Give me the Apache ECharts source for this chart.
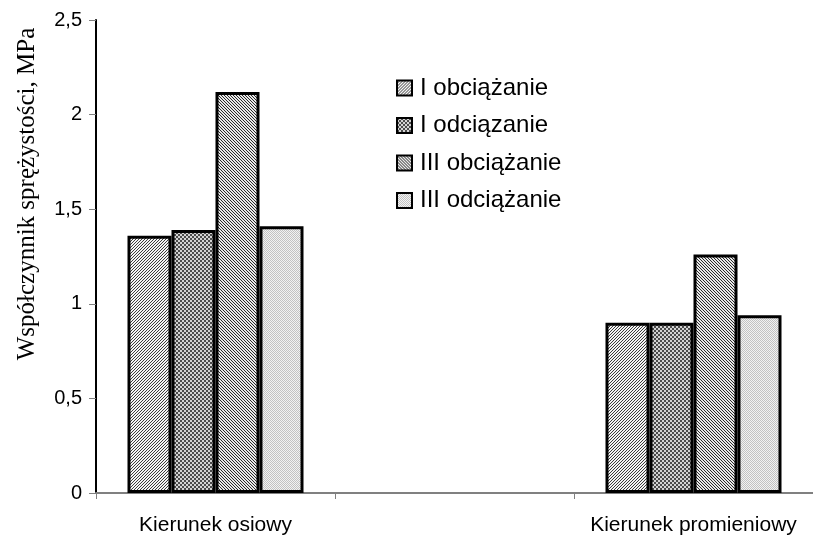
<!DOCTYPE html>
<html>
<head>
<meta charset="utf-8">
<script src="https://cdn.jsdelivr.net/npm/echarts@6/dist/echarts.min.js"></script>
<style>
  html, body { margin: 0; padding: 0; background: #fff; }
  #chart { width: 813px; height: 537px; }
</style>
</head>
<body>
<div id="chart"></div>
<script>
// Categories along the x axis (middle slot left empty)
const categories = ['Kierunek osiowy', '', 'Kierunek promieniowy'];

// Series names
const seriesNames = ['I obciążanie', 'I odciązanie', 'III obciążanie', 'III odciążanie'];

// Values per series, MPa
const iObciazanie = [1.36, null, 0.90];
const iOdciazanie = [1.39, null, 0.90];
const iiiObciazanie = [2.12, null, 1.26];
const iiiOdciazanie = [1.41, null, 0.94];

// Y-axis ticks
const yMin = 0, yMax = 2.5, yStep = 0.5;

// Builds a small repeating tile for hatched fills
function tile(size, bg, painter) {
  const c = document.createElement('canvas');
  c.width = size; c.height = size;
  const g = c.getContext('2d');
  g.fillStyle = bg;
  g.fillRect(0, 0, size, size);
  painter(g, size);
  return { image: c, repeat: 'repeat' };
}

// "/" hatch
const hatchForward = tile(3, '#f4f4f4', (g, s) => {
  for (let i = 0; i < s; i++) {
    g.fillStyle = '#3c3c3c'; g.fillRect(i, s - 1 - i, 1, 1);
  }
});
// fine dark checker
const checkerDark = tile(4, '#d2d2d2', (g) => {
  g.fillStyle = '#4a4a4a';
  g.fillRect(0, 0, 2, 2); g.fillRect(2, 2, 2, 2);
});
// "\" hatch, slightly darker
const hatchBack = tile(3, '#e8e8e8', (g, s) => {
  for (let i = 0; i < s; i++) {
    g.fillStyle = '#2a2a2a'; g.fillRect(i, i, 1, 1);
  }
});
// light stipple
const stippleLight = tile(2, '#f2f2f2', (g) => {
  g.fillStyle = '#c2c2c2';
  g.fillRect(0, 0, 1, 1); g.fillRect(1, 1, 1, 1);
});

const fills = [hatchForward, checkerDark, hatchBack, stippleLight];
const values = [iObciazanie, iOdciazanie, iiiObciazanie, iiiOdciazanie];

const chart = echarts.init(document.getElementById('chart'), null, { renderer: 'canvas' });

const series = seriesNames.map((name, i) => ({
  name: name,
  type: 'bar',
  data: values[i],
  barWidth: 44,
  barGap: '0%',
  itemStyle: { color: fills[i], borderColor: '#000', borderWidth: 3 },
  emphasis: { disabled: true },
  animation: false
}));

chart.setOption({
  animation: false,
  backgroundColor: '#ffffff',
  grid: { left: 96, right: -7, top: 20, bottom: 44, containLabel: false },
  legend: {
    orient: 'vertical',
    left: 391,
    top: 71,
    itemWidth: 15,
    itemHeight: 15,
    itemGap: 13.5,
    icon: 'rect',
    data: seriesNames,
    itemStyle: { borderColor: '#000', borderWidth: 2 },
    textStyle: { fontFamily: 'Liberation Sans, Arial, sans-serif', fontSize: 24, color: '#000', padding: [0, 0, 0, 3] }
  },
  xAxis: {
    type: 'category',
    data: categories,
    axisLine: { lineStyle: { color: '#808080', width: 2 } },
    axisTick: { show: true, length: 6, lineStyle: { color: '#808080', width: 1 } },
    axisLabel: { fontFamily: 'Liberation Sans, Arial, sans-serif', fontSize: 21, color: '#000', margin: 22, interval: 0 },
    splitLine: { show: false }
  },
  yAxis: {
    type: 'value',
    min: yMin,
    max: yMax,
    interval: yStep,
    axisLine: { show: true, lineStyle: { color: '#000', width: 2 } },
    axisTick: { show: true, length: 7, lineStyle: { color: '#808080', width: 1 } },
    axisLabel: {
      fontFamily: 'Liberation Sans, Arial, sans-serif',
      fontSize: 20,
      color: '#000',
      margin: 14,
      formatter: v => String(v).replace('.', ',')
    },
    splitLine: { show: false }
  },
  graphic: [{
    type: 'text',
    x: 27,
    y: 194,
    rotation: Math.PI / 2,
    style: {
      text: 'Współczynnik sprężystości, MPa',
      font: '25px "Liberation Serif", "Times New Roman", serif',
      fill: '#000',
      textAlign: 'center',
      textVerticalAlign: 'middle'
    }
  }],
  series: series
});
</script>
</body>
</html>
